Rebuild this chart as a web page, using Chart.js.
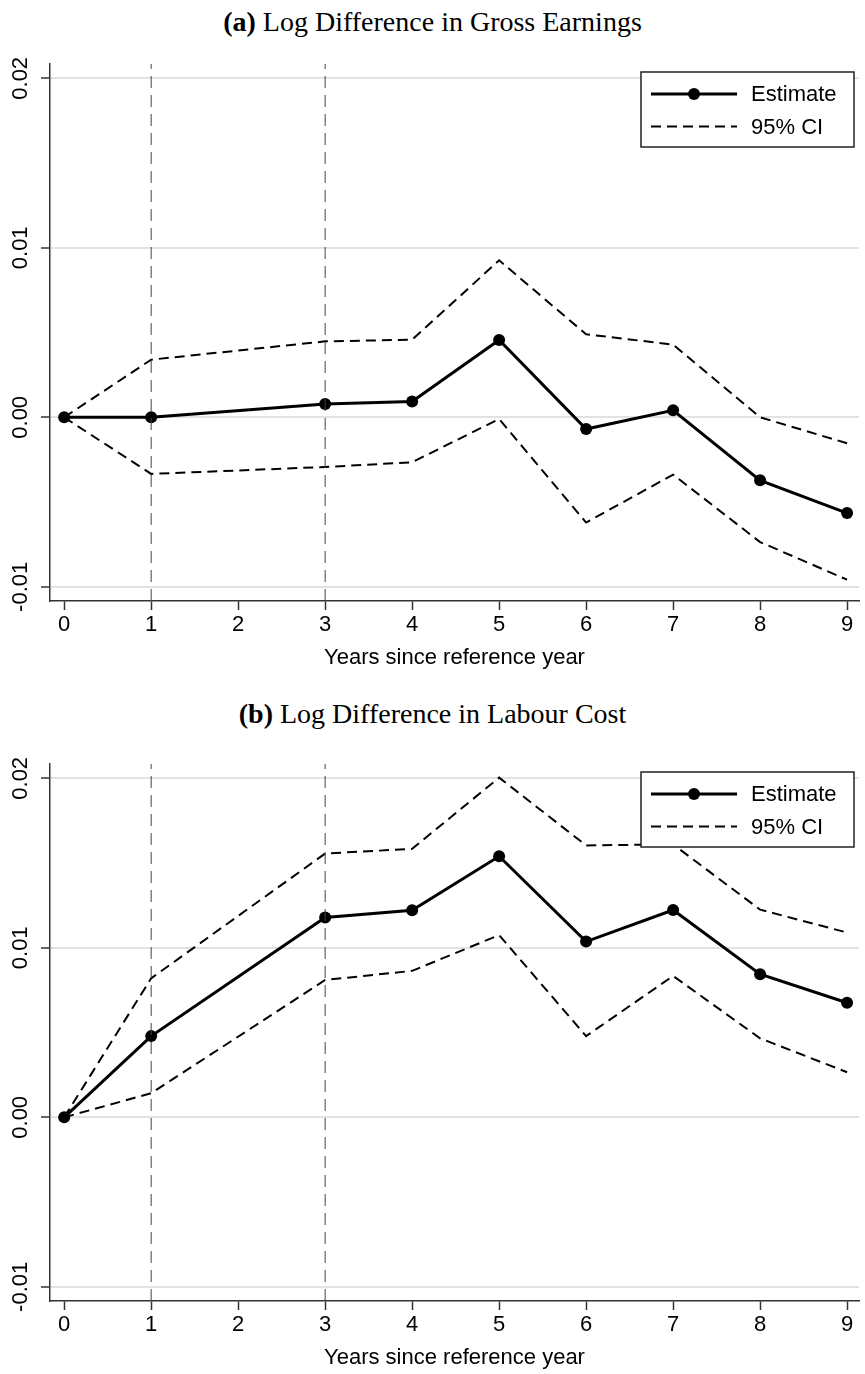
<!DOCTYPE html>
<html>
<head>
<meta charset="utf-8">
<script src="https://cdn.jsdelivr.net/npm/chart.js@4.4.1/dist/chart.umd.min.js"></script>
<style>
  body { margin: 0; background: #fff; }
  #page { position: relative; width: 865px; height: 1374px; }
  .caption {
    position: absolute; left: 0; width: 865px; text-align: center;
    font-family: "Liberation Serif", "DejaVu Serif", serif;
    font-size: 28px; line-height: 30px; color: #000;
  }
  .panel { position: absolute; left: 0; width: 865px; height: 650px; }
</style>
</head>
<body>
<div id="page">
  <div class="caption" style="top:7px"><b>(a)</b> Log Difference in Gross Earnings</div>
  <div class="panel" style="top:40px"><canvas id="chartEarnings" width="865" height="650"></canvas></div>
  <div class="caption" style="top:699px"><b>(b)</b> Log Difference in Labour Cost</div>
  <div class="panel" style="top:740px"><canvas id="chartLabour" width="865" height="650"></canvas></div>
</div>
<script>
// event-study estimates, years since the reference year (no year 2 estimate)
var years = [0, 1, 3, 4, 5, 6, 7, 8, 9];

var earningsEst = [0, 0, 0.00078, 0.00093, 0.00456, -0.00069, 0.00041, -0.00372, -0.00565];
var earningsHi  = [0, 0.0034, 0.00448, 0.00458, 0.00926, 0.0049, 0.00429, 0.0000, -0.00153];
var earningsLo  = [0, -0.00334, -0.00293, -0.00265, -0.0001, -0.00621, -0.00338, -0.00736, -0.00958];

var labourEst = [0, 0.00479, 0.01179, 0.01221, 0.0154, 0.01037, 0.01223, 0.00844, 0.00676];
var labourHi  = [0, 0.0082, 0.01556, 0.01584, 0.02004, 0.01604, 0.0161, 0.01225, 0.0109];
var labourLo  = [0, 0.00142, 0.0081, 0.00864, 0.01075, 0.00479, 0.00834, 0.00466, 0.00266];

// vertical marker lines
var refYears = [1, 3];

var xTicks = [0, 1, 2, 3, 4, 5, 6, 7, 8, 9];
var yTicks = [-0.01, 0, 0.01, 0.02];

var X_MIN = -0.163, X_MAX = 9.137;
var Y_MIN = -0.010837, Y_MAX = 0.020844;

var SANS = '"Liberation Sans", Arial, Helvetica, sans-serif';

function pts(vals) {
  return years.map(function (x, i) { return { x: x, y: vals[i] }; });
}

// boxed legend in the top right corner of the plot
var boxLegend = {
  id: 'boxLegend',
  afterDatasetsDraw: function (chart) {
    var ctx = chart.ctx, a = chart.chartArea;
    var w = 213, h = 75;
    var x = a.right - 5 - w, y = a.top + 8;
    var est = chart.data.datasets.find(function (d) { return d.label === 'Estimate'; });
    var ci = chart.data.datasets.find(function (d) { return d.label === '95% CI'; });
    ctx.save();
    ctx.fillStyle = '#fff';
    ctx.fillRect(x, y, w, h);
    ctx.strokeStyle = '#222';
    ctx.lineWidth = 1.5;
    ctx.strokeRect(x, y, w, h);

    var r1 = y + 22, r2 = y + 54.5;
    // estimate sample
    ctx.strokeStyle = est.borderColor;
    ctx.lineWidth = est.borderWidth;
    ctx.beginPath(); ctx.moveTo(x + 10, r1); ctx.lineTo(x + 96, r1); ctx.stroke();
    ctx.fillStyle = est.pointBackgroundColor;
    ctx.beginPath(); ctx.arc(x + 53, r1, est.pointRadius, 0, Math.PI * 2); ctx.fill();
    // ci sample
    ctx.strokeStyle = ci.borderColor;
    ctx.lineWidth = ci.borderWidth;
    ctx.setLineDash(ci.borderDash);
    ctx.beginPath(); ctx.moveTo(x + 10, r2); ctx.lineTo(x + 96, r2); ctx.stroke();
    ctx.setLineDash([]);

    ctx.fillStyle = '#000';
    ctx.font = '22px ' + SANS;
    ctx.textBaseline = 'middle';
    ctx.textAlign = 'left';
    ctx.fillText(est.label, x + 110, r1 + 1);
    ctx.fillText(ci.label, x + 110, r2 + 1);
    ctx.restore();
  }
};

function makeChart(id, est, hi, lo) {
  var sets = refYears.map(function (r) {
    return {
      label: 'ref' + r,
      data: [{ x: r, y: Y_MIN }, { x: r, y: Y_MAX }],
      borderColor: '#444',
      borderWidth: 1,
      borderDash: [12, 7],
      pointRadius: 0
    };
  });
  sets.push({
    label: '95% CI', data: pts(hi),
    borderColor: '#000', borderWidth: 2, borderDash: [10, 6], pointRadius: 0
  });
  sets.push({
    label: '95% CI lower', data: pts(lo),
    borderColor: '#000', borderWidth: 2, borderDash: [10, 6], pointRadius: 0
  });
  sets.push({
    label: 'Estimate', data: pts(est),
    borderColor: '#000', borderWidth: 3,
    pointRadius: 6, pointBackgroundColor: '#000', pointBorderWidth: 0
  });

  return new Chart(document.getElementById(id), {
    type: 'line',
    data: { datasets: sets },
    plugins: [boxLegend],
    options: {
      responsive: false,
      animation: false,
      layout: { padding: { top: 24, left: 0, right: 0, bottom: 0 } },
      elements: { line: { tension: 0 } },
      plugins: { legend: { display: false }, tooltip: { enabled: false } },
      scales: {
        x: {
          type: 'linear', min: X_MIN, max: X_MAX,
          afterBuildTicks: function (s) { s.ticks = xTicks.map(function (v) { return { value: v }; }); },
          afterFit: function (s) { s.height = 89; },
          grid: { drawOnChartArea: false, tickLength: 9, tickColor: '#333', tickWidth: 1.5 },
          border: { color: '#333', width: 1.5 },
          ticks: { color: '#000', font: { family: SANS, size: 22 }, padding: 2, maxRotation: 0, autoSkip: false },
          title: {
            display: true, text: 'Years since reference year', color: '#000',
            font: { family: SANS, size: 22 }, padding: { top: 0, bottom: 19 }
          }
        },
        y: {
          min: Y_MIN, max: Y_MAX,
          afterBuildTicks: function (s) { s.ticks = yTicks.map(function (v) { return { value: v }; }); },
          afterFit: function (s) { s.width = 50; },
          grid: { color: '#e2e2e2', lineWidth: 2, tickLength: 9, tickColor: '#333', tickWidth: 1.5 },
          border: { color: '#333', width: 1.5 },
          ticks: {
            color: '#000', font: { family: SANS, size: 22 },
            minRotation: 90, maxRotation: 90, crossAlign: 'center', padding: -5,
            callback: function (v) { return v.toFixed(2); }
          }
        }
      }
    }
  });
}

makeChart('chartEarnings', earningsEst, earningsHi, earningsLo);
makeChart('chartLabour', labourEst, labourHi, labourLo);
</script>
</body>
</html>
